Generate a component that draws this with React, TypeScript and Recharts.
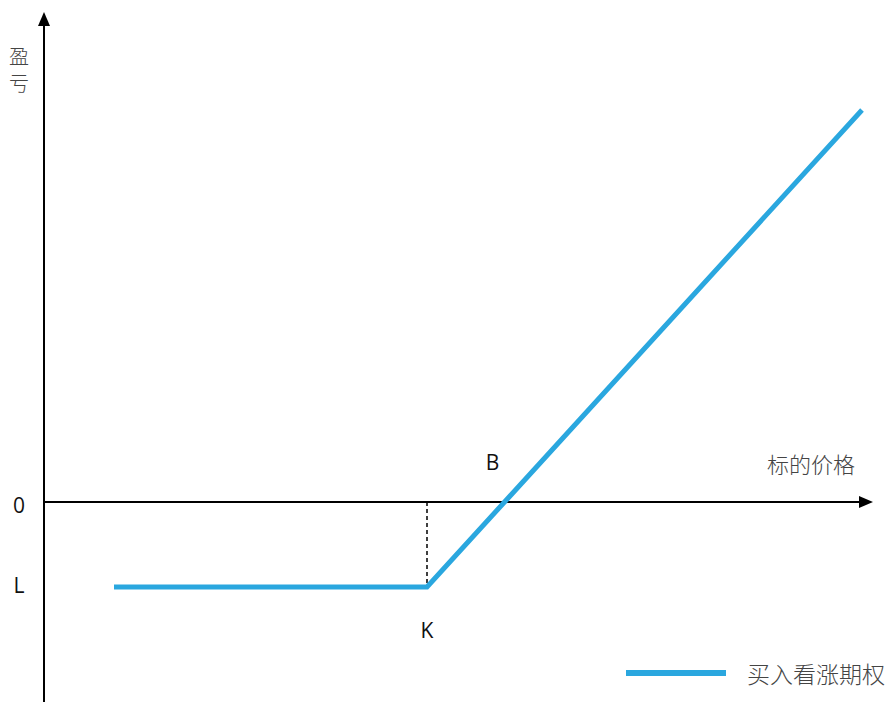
import React from 'react';
import { ComposedChart, Line, XAxis, YAxis, ReferenceLine, ReferenceDot } from 'recharts';

// payoff of a long call: flat loss L until strike K, then rising
const prices = [70, 383, 818];
const pnl = [-85, -85, 392];
const strike = 383;
const loss = -85;
const xMax = 829;
const yMin = -200;
const yMax = 490;
const seriesName = '买入看涨期权';
const xLabel = '标的价格';
const yLabel = ['盈', '亏'];

const data = prices.map((p, i) => ({ x: p, y: pnl[i] }));
// breakeven where payoff crosses zero
const breakeven = strike + (0 - loss) * (prices[2] - strike) / (pnl[2] - loss);

const BLUE = '#2aa7df';
const CJK = '"Noto Sans CJK SC", "Noto Sans", sans-serif';
const LAT = '"Open Sans", "Noto Sans", sans-serif';

const Txt = (text: string, dx: number, dy: number, opts: any = {}) => (props: any) => (
  <text
    x={props.cx + dx}
    y={props.cy + dy}
    textAnchor="middle"
    dominantBaseline="central"
    fontFamily={opts.cjk ? CJK : LAT}
    fontSize={opts.size || 21}
    fontWeight={opts.cjk ? 300 : 400}
    fill={opts.cjk ? '#444' : '#111'}
  >
    {text}
  </text>
);

const ArrowRight = (props: any) => (
  <path d={`M${props.cx},${props.cy} L${props.cx - 14},${props.cy - 6} L${props.cx - 14},${props.cy + 6} Z`} fill="#000" />
);
const ArrowUp = (props: any) => (
  <path d={`M${props.cx},${props.cy} L${props.cx - 6},${props.cy + 14} L${props.cx + 6},${props.cy + 14} Z`} fill="#000" />
);

const App: React.FC = () => {
  return (
    <div style={{ position: 'absolute', left: 0, top: 0, width: 888, height: 702, background: '#fff' }}>
      <ComposedChart width={888} height={702} data={data} margin={{ top: 12, right: 15, bottom: 0, left: 44 }}>
        <XAxis type="number" dataKey="x" domain={[0, xMax]} hide />
        <YAxis type="number" domain={[yMin, yMax]} hide />

        {/* axes */}
        <ReferenceLine segment={[{ x: 0, y: 0 }, { x: xMax - 12, y: 0 }]} stroke="#000" strokeWidth={2} />
        <ReferenceLine segment={[{ x: 0, y: yMin }, { x: 0, y: yMax - 12 }]} stroke="#000" strokeWidth={2} />
        <ReferenceDot x={xMax} y={0} shape={ArrowRight} />
        <ReferenceDot x={0} y={yMax} shape={ArrowUp} />

        {/* strike guide */}
        <ReferenceLine segment={[{ x: strike, y: 0 }, { x: strike, y: loss }]} stroke="#000" strokeWidth={1.5} strokeDasharray="4 3" />

        <Line
          type="linear"
          dataKey="y"
          name={seriesName}
          stroke={BLUE}
          strokeWidth={5}
          dot={false}
          isAnimationActive={false}
        />

        {/* labels */}
        <ReferenceDot x={0} y={0} shape={Txt('0', -25, 3)} />
        <ReferenceDot x={0} y={loss} shape={Txt('L', -25, -2)} />
        <ReferenceDot x={strike} y={loss} shape={Txt('K', 0, 43)} />
        <ReferenceDot x={breakeven} y={0} shape={Txt('B', -12, -40)} />
        <ReferenceDot x={xMax} y={0} shape={Txt(xLabel, -62, -39, { cjk: true, size: 22 })} />
        <ReferenceDot x={0} y={yMax} shape={Txt(yLabel[0], -25, 43, { cjk: true, size: 20 })} />
        <ReferenceDot x={0} y={yMax} shape={Txt(yLabel[1], -25, 70, { cjk: true, size: 20 })} />
      </ComposedChart>

      {/* legend */}
      <div style={{ position: 'absolute', left: 626, top: 658, display: 'flex', alignItems: 'center', height: 30 }}>
        <div style={{ width: 100, height: 6, background: BLUE }} />
        <span style={{ marginLeft: 21, fontFamily: CJK, fontWeight: 300, fontSize: 23, color: '#444' }}>{seriesName}</span>
      </div>
    </div>
  );
};

export default App;
